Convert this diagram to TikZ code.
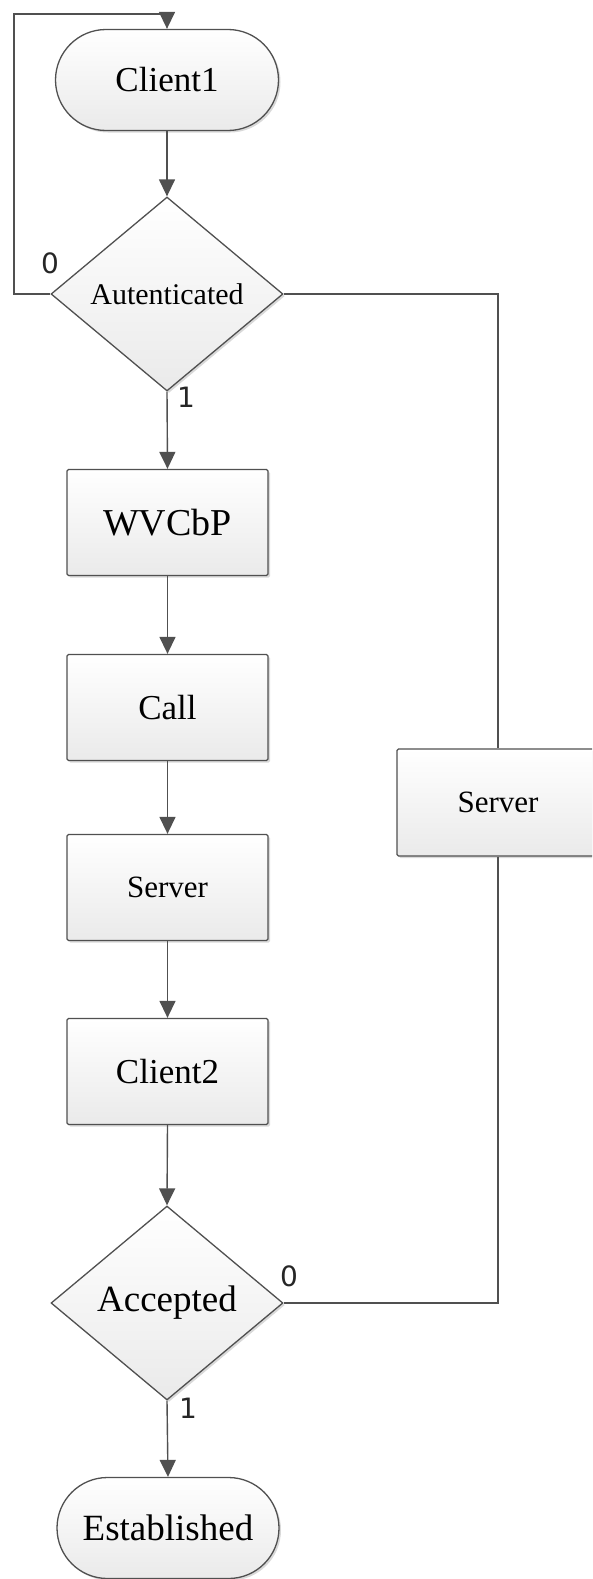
\documentclass[tikz,border=0pt]{standalone}
\usepackage{fontspec}
\setmainfont{Liberation Serif}
\newfontfamily\labelfont{DejaVu Sans}
\usetikzlibrary{shapes.geometric,shapes.misc,arrows.meta,shadows}
\definecolor{linegray}{HTML}{505050}
\definecolor{fillgray}{HTML}{EAEAEA}
\tikzset{
  base/.style={draw=linegray, line width=1.3pt, top color=white, bottom color=fillgray,
    drop shadow={shadow xshift=2pt, shadow yshift=-2pt, opacity=0.3, fill=gray},
    inner sep=0pt, text=black},
  term/.style={base, rounded rectangle, minimum width=223pt, minimum height=101pt},
  proc/.style={base, rectangle, rounded corners=1.5pt, minimum width=201pt, minimum height=106pt},
  decide/.style={base, diamond, aspect=1.2, minimum width=232pt, minimum height=194pt},
  flow/.style={draw=linegray, line width=1.4pt, -{Triangle[width=16pt,length=17pt]}},
  wire/.style={draw=linegray, line width=1.4pt},
  branch/.style={font=\labelfont\fontsize{28}{30}\selectfont, text=black!85, inner sep=0pt}
}
\newcommand{\fs}[1]{\fontsize{#1}{#1}\selectfont}
\begin{document}
\begin{tikzpicture}[x=1pt,y=-1pt]
\useasboundingbox (0,0) rectangle (592,1579);
\clip (0,0) rectangle (592,1579);

% main column
\node[term]   (c1)   at (167,80)      {\fs{35}Client1};
\node[decide] (auth) at (167,294)     {\fs{30}Autenticated};
\node[proc]   (wv)   at (167.5,522.5) {\fs{38}WVCbP};
\node[proc]   (call) at (167.5,707.5) {\fs{35}Call};
\node[proc]   (srv)  at (167.5,887.5) {\fs{31}Server};
\node[proc]   (c2)   at (167.5,1071.5){\fs{35}Client2};
\node[decide] (acc)  at (167,1303)    {\fs{37}Accepted};
\node[term, minimum width=222pt] (est) at (168,1528) {\fs{37}Established};

% side branch
\node[proc, minimum width=202pt, minimum height=107pt] (srv2) at (498,802.5) {\fs{31}Server};

% retry loop back to the start
\coordinate (loopcorner) at (14,14);
\draw[flow] (auth.west) -| (loopcorner) -| (c1.north);

% forward flow
\draw[flow] (c1.south)   -- (auth.north);
\draw[flow] (auth.south) -- (wv.north);
\draw[flow] (wv.south)   -- (call.north);
\draw[flow] (call.south) -- (srv.north);
\draw[flow] (srv.south)  -- (c2.north);
\draw[flow] (c2.south)   -- (acc.north);
\draw[flow] (acc.south)  -- (est.north);

% right-hand path through the second server
\draw[wire] (auth.east) -| (srv2.north);
\draw[wire] (srv2.south) |- (acc.east);

% branch labels
\node[branch] (l0a) at (50,263)   {0};
\node[branch] (l1a) at (186,397)  {1};
\node[branch] (l0b) at (289,1276) {0};
\node[branch] (l1b) at (188,1408) {1};
\end{tikzpicture}
\end{document}
